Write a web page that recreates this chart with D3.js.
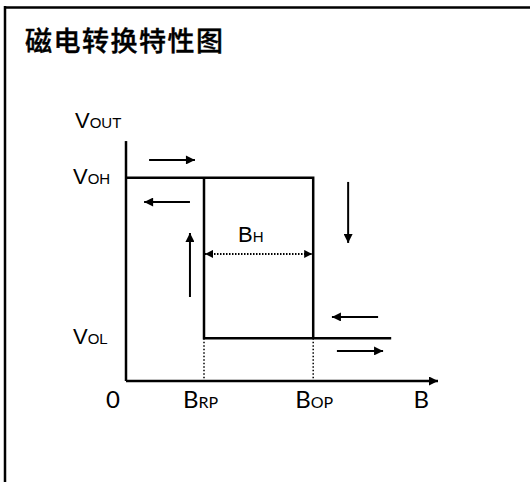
<!DOCTYPE html>
<html><head><meta charset="utf-8">
<script src="https://cdn.jsdelivr.net/npm/d3@7"></script>
<style>body{margin:0;background:#fff}</style>
</head><body>
<svg id="c" width="530" height="482"></svg>
<script>
// ---- data ----
const title = "磁电转换特性图";
const B_RP = 2.5, B_OP = 6.0, B_END = 8.5;   // magnetic field points
const V_OH = 10, V_OL = 2.1;                 // output levels
const xMax = 10, yMax = 11.8;
// hysteresis loop path (B, Vout)
const loopHigh = [[0, V_OH], [B_OP, V_OH], [B_OP, V_OL]];
const loopLow = [[B_RP, V_OH], [B_RP, V_OL], [B_END, V_OL]];
// direction arrows [x1,y1,x2,y2]
const arrows = [
  [0.74, 10.87, 2.21, 10.87],
  [2.05, 8.8, 0.58, 8.8],
  [2.05, 4.13, 2.05, 7.28],
  [7.12, 9.79, 7.12, 6.79],
  [8.08, 3.15, 6.6, 3.15],
  [6.76, 1.48, 8.24, 1.48]
];
const xTickVals = [0, B_RP, B_OP, 9.25];
const xTickMain = ["0", "B", "B", "B"];
const xTickSub = ["", "RP", "OP", ""];
const yTickVals = [V_OH, V_OL];
const yTickSub = ["OH", "OL"];
const hystY = 6.25;

// ---- drawing ----
const svg = d3.select("#c");
const x = d3.scaleLinear().domain([0, xMax]).range([126, 438]);
const y = d3.scaleLinear().domain([0, 12]).range([381, 137]);

// frame
svg.append("line").attr("x1", 4).attr("x2", 530).attr("y1", 7.5).attr("y2", 7.5).attr("stroke", "#000").attr("stroke-width", 2.5);
svg.append("line").attr("x1", 5).attr("x2", 5).attr("y1", 6).attr("y2", 482).attr("stroke", "#000").attr("stroke-width", 2.5);

svg.append("text").attr("x", 25).attr("y", 51)
  .attr("font-family", "'Noto Sans CJK SC', sans-serif").attr("font-size", 27).attr("font-weight", 500)
  .attr("letter-spacing", 1.5).attr("stroke", "#000").attr("stroke-width", 0.4).text(title);

const defs = svg.append("defs");
defs.append("marker").attr("id", "ah").attr("viewBox", "0 0 10 10").attr("refX", 10).attr("refY", 5)
  .attr("markerWidth", 10).attr("markerHeight", 9).attr("markerUnits", "userSpaceOnUse").attr("orient", "auto")
  .append("path").attr("d", "M0,0L10,5L0,10Z").attr("fill", "#000");
defs.append("marker").attr("id", "ah2").attr("viewBox", "0 0 10 10").attr("refX", 10).attr("refY", 5)
  .attr("markerWidth", 10).attr("markerHeight", 8).attr("markerUnits", "userSpaceOnUse").attr("orient", "auto-start-reverse")
  .append("path").attr("d", "M0,0L10,5L0,10Z").attr("fill", "#000");

// axes
svg.append("line").attr("x1", x(0)).attr("x2", x(0)).attr("y1", y(yMax)).attr("y2", y(0)).attr("stroke", "#000").attr("stroke-width", 2.5);
svg.append("line").attr("x1", x(0)).attr("x2", x(xMax)).attr("y1", y(0)).attr("y2", y(0)).attr("stroke", "#000").attr("stroke-width", 2.5).attr("marker-end", "url(#ah)");

// dotted guides
[B_RP, B_OP].forEach(b => {
  svg.append("line").attr("x1", x(b)).attr("x2", x(b)).attr("y1", y(V_OL)).attr("y2", y(0))
    .attr("stroke", "#000").attr("stroke-width", 1.5).attr("stroke-dasharray", "1.5,2");
});

const line = d3.line().x(d => x(d[0])).y(d => y(d[1]));
[loopHigh, loopLow].forEach(p => {
  svg.append("path").attr("d", line(p)).attr("fill", "none").attr("stroke", "#000").attr("stroke-width", 2.5).attr("stroke-linejoin", "miter");
});

// hysteresis width arrow
svg.append("line").attr("x1", x(B_RP) + 1).attr("x2", x(B_OP) - 1).attr("y1", y(hystY)).attr("y2", y(hystY))
  .attr("stroke", "#000").attr("stroke-width", 2).attr("stroke-dasharray", "1.5,1.5")
  .attr("marker-start", "url(#ah2)").attr("marker-end", "url(#ah2)");

arrows.forEach(a => {
  svg.append("line").attr("x1", x(a[0])).attr("y1", y(a[1])).attr("x2", x(a[2])).attr("y2", y(a[3]))
    .attr("stroke", "#000").attr("stroke-width", 2).attr("marker-end", "url(#ah)");
});

// labels
function lab(px, py, main, sub, fam, sz, subSz) {
  const t = svg.append("text").attr("x", px).attr("y", py).attr("font-family", fam).attr("fill", "#000");
  t.append("tspan").attr("font-size", sz).text(main);
  if (sub) t.append("tspan").attr("font-size", subSz).text(sub);
  return t;
}
const sansV = "'Liberation Sans', Arial, sans-serif";
const sansB = "Lato, 'Open Sans', sans-serif";
lab(75, 128, "V", "OUT", sansV, 22, 15);
yTickVals.forEach((v, i) => lab(73, y(v) + 6, "V", yTickSub[i], sansV, 22, 15));
lab(238, 242, "B", "H", sansV, 22, 15);
const xOff = [-20, -21, -18, -1];
xTickVals.forEach((v, i) => lab(x(v) + xOff[i], 408, xTickMain[i], xTickSub[i], sansB, 24, 16));
</script>
</body></html>
